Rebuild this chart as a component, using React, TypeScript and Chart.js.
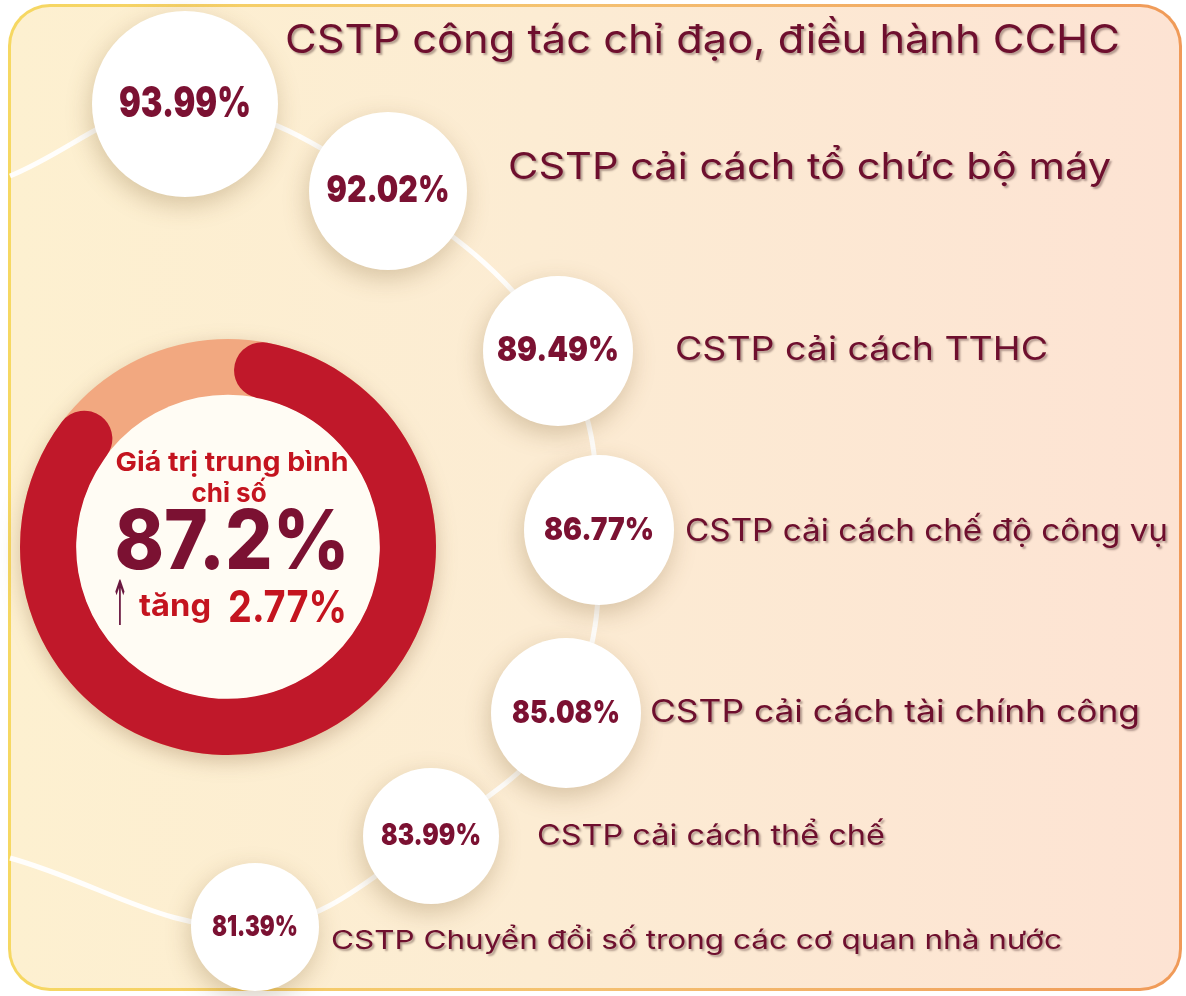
import React, { useEffect, useRef } from 'react';
import { Chart, registerables } from 'chart.js';

Chart.register(...registerables);

// ---------------- data ----------------
const CATEGORIES = [
  'CSTP công tác chỉ đạo, điều hành CCHC',
  'CSTP cải cách tổ chức bộ máy',
  'CSTP cải cách TTHC',
  'CSTP cải cách chế độ công vụ',
  'CSTP cải cách tài chính công',
  'CSTP cải cách thể chế',
  'CSTP Chuyển đổi số trong các cơ quan nhà nước',
];
const VALUES = [93.99, 92.02, 89.49, 86.77, 85.08, 83.99, 81.39];
const AVERAGE = 87.2;
const CHANGE = 2.77;
const AVG_TITLE = ['Giá trị trung bình', 'chỉ số'];
const CHANGE_WORD = 'tăng';
const DONUT_LABELS = ['Giá trị trung bình', 'Còn lại'];
const DONUT_SERIES = [AVERAGE, +(100 - AVERAGE).toFixed(2)];

// ---------------- layout (positions / sizes only) ----------------
const W = 1186;
const H = 996;
// node centre x, centre y, radius (px)
const NODE_LAYOUT = [
  [185, 104, 93],
  [388, 191, 79],
  [558, 351, 75],
  [599, 530, 75],
  [566, 713, 75],
  [431, 836, 68],
  [255, 927, 64],
];
const PATH_START = [10, 176];
const PATH_END = [10, 858];
// percent text: font size, target width
const PCT_LAYOUT = [
  [42, 132],
  [37, 123],
  [34, 122],
  [32, 110],
  [32, 108],
  [30, 100],
  [29, 86],
];
// category label: left x, centre y, font size, target width
const LABEL_LAYOUT = [
  [285, 41, 40, 835],
  [508, 168, 37, 603],
  [675, 350, 33, 373],
  [685, 532, 31, 483],
  [650, 713, 31, 490],
  [537, 837, 28, 348],
  [331, 941, 26, 731],
];

const FONT = '"Inter", "Noto Sans", "DejaVu Sans", sans-serif';
const MAROON = '#6e0f2e';
const PCT_COLOR = '#7b1132';
const RED = '#c0182a';
const PEACH = '#f2a880';
const TEXT_RED = '#c4141f';

function fitText(
  ctx: CanvasRenderingContext2D,
  text: string,
  x: number,
  y: number,
  size: number,
  weight: number,
  color: string,
  targetW: number | null,
  align: 'left' | 'center',
  shadow?: boolean,
  family: string = FONT
) {
  ctx.save();
  ctx.font = `${weight} ${size}px ${family}`;
  ctx.textBaseline = 'middle';
  ctx.textAlign = 'left';
  const w = ctx.measureText(text).width;
  const sx = targetW ? targetW / w : 1;
  const left = align === 'center' ? x - (w * sx) / 2 : x;
  if (shadow) {
    ctx.shadowColor = 'rgba(70,40,40,0.40)';
    ctx.shadowOffsetX = 2;
    ctx.shadowOffsetY = 2;
    ctx.shadowBlur = 2;
  }
  ctx.translate(left, y);
  ctx.scale(sx, 1);
  ctx.fillStyle = color;
  ctx.fillText(text, 0, 0);
  ctx.restore();
}

const donutPlugin = {
  id: 'donutDecor',
  beforeDatasetsDraw(chart: any) {
    const arc: any = chart.getDatasetMeta(0).data[0];
    if (!arc) return;
    const { x, y, innerRadius, outerRadius } = arc;
    const ctx = chart.ctx as CanvasRenderingContext2D;
    ctx.save();
    ctx.beginPath();
    ctx.arc(x, y, outerRadius, 0, Math.PI * 2);
    ctx.arc(x, y, innerRadius, 0, Math.PI * 2, true);
    ctx.fillStyle = PEACH;
    ctx.fill();
    ctx.beginPath();
    ctx.arc(x, y, innerRadius + 0.5, 0, Math.PI * 2);
    ctx.fillStyle = '#fffcf4';
    ctx.fill();
    ctx.restore();
  },
  afterDatasetsDraw(chart: any) {
    const arc: any = chart.getDatasetMeta(0).data[0];
    if (!arc) return;
    const { x, y } = arc;
    const ctx = chart.ctx as CanvasRenderingContext2D;
    fitText(ctx, AVG_TITLE[0], x + 4, y - 84, 26, 700, TEXT_RED, 233, 'center');
    fitText(ctx, AVG_TITLE[1], x + 1, y - 53, 26, 700, TEXT_RED, null, 'center');
    fitText(ctx, `${AVERAGE}%`, x + 4, y - 3, 82, 800, PCT_COLOR, 235, 'center');
    fitText(ctx, '↑', x - 117, y + 62, 62, 400, '#6b1840', 18, 'left', false, '"DejaVu Sans", sans-serif');
    fitText(ctx, CHANGE_WORD, x - 89, y + 60, 31, 700, TEXT_RED, 72, 'left');
    fitText(ctx, `${CHANGE}%`, x + 0, y + 62, 44, 700, TEXT_RED, 119, 'left');
  },
};

const shadowPlugin = {
  id: 'nodeShadow',
  beforeDatasetDraw(chart: any, args: any) {
    if (args.index !== 1) return;
    const ctx = chart.ctx as CanvasRenderingContext2D;
    ctx.save();
    ctx.shadowColor = 'rgba(120,85,40,0.28)';
    ctx.shadowBlur = 24;
    ctx.shadowOffsetX = -2;
    ctx.shadowOffsetY = 8;
  },
  afterDatasetDraw(chart: any, args: any) {
    if (args.index !== 1) return;
    chart.ctx.restore();
  },
};

const labelPlugin = {
  id: 'nodeLabels',
  afterDatasetsDraw(chart: any) {
    const ctx = chart.ctx as CanvasRenderingContext2D;
    const meta = chart.getDatasetMeta(1);
    meta.data.forEach((el: any, i: number) => {
      const [size, tw] = PCT_LAYOUT[i];
      fitText(ctx, VALUES[i].toFixed(2) + '%', el.x, el.y, size, 900, PCT_COLOR, tw, 'center');
    });
    CATEGORIES.forEach((c, i) => {
      const [lx, ly, size, tw] = LABEL_LAYOUT[i];
      fitText(ctx, c, lx, ly, size, 400, MAROON, tw, 'left', true);
    });
  },
};

export default function App() {
  const nodesRef = useRef<HTMLCanvasElement>(null);
  const donutRef = useRef<HTMLCanvasElement>(null);

  useEffect(() => {
    const linePts = [
      { x: PATH_START[0], y: PATH_START[1] },
      ...NODE_LAYOUT.map((n) => ({ x: n[0], y: n[1] })),
      { x: PATH_END[0], y: PATH_END[1] },
    ];
    const nodes = new Chart(nodesRef.current as HTMLCanvasElement, {
      type: 'bubble',
      data: {
        datasets: [
          {
            type: 'line',
            label: 'path',
            data: linePts,
            borderColor: 'rgba(255,255,255,0.92)',
            borderWidth: 5,
            pointRadius: 0,
            tension: 0.38,
            fill: false,
            order: 2,
            clip: false,
          } as any,
          {
            type: 'bubble',
            label: 'Chỉ số thành phần',
            data: VALUES.map((v, i) => ({ x: NODE_LAYOUT[i][0], y: NODE_LAYOUT[i][1], r: NODE_LAYOUT[i][2], v })),
            backgroundColor: '#ffffff',
            borderWidth: 0,
            order: 1,
            clip: false,
          } as any,
        ],
      },
      options: {
        responsive: false,
        animation: false,
        events: [],
        layout: { padding: 0, autoPadding: false },
        plugins: { legend: { display: false }, tooltip: { enabled: false } },
        scales: {
          x: { type: 'linear', display: false, min: 0, max: W, grace: 0 },
          y: { type: 'linear', display: false, min: 0, max: H, reverse: true, grace: 0 },
        },
      },
      plugins: [shadowPlugin, labelPlugin],
    } as any);

    const donut = new Chart(donutRef.current as HTMLCanvasElement, {
      type: 'doughnut',
      data: {
        labels: DONUT_LABELS,
        datasets: [
          {
            data: DONUT_SERIES,
            backgroundColor: [RED, 'rgba(0,0,0,0)'],
            borderWidth: 0,
            borderRadius: (c: any) => (c.dataIndex === 0 ? 28 : 0),
          },
        ],
      },
      options: {
        responsive: false,
        animation: false,
        events: [],
        rotation: 2,
        cutout: '73%',
        layout: { padding: 12 },
        plugins: { legend: { display: false }, tooltip: { enabled: false } },
      },
      plugins: [donutPlugin],
    } as any);

    return () => {
      nodes.destroy();
      donut.destroy();
    };
  }, []);

  return (
    <div style={{ position: 'fixed', left: 0, top: 0, width: W, height: H, background: '#ffffff', overflow: 'hidden' }}>
      <div
        style={{
          position: 'absolute',
          left: 8,
          top: 4,
          width: 1174,
          height: 987,
          boxSizing: 'border-box',
          borderRadius: 42,
          border: '3px solid transparent',
          background:
            'linear-gradient(90deg, #fdf0d0 0%, #fcecd3 45%, #fde3d3 100%) padding-box, linear-gradient(90deg, #f6d862 0%, #f4c071 50%, #f09a58 100%) border-box',
        }}
      />
      <canvas ref={nodesRef} width={W} height={H} style={{ position: 'absolute', left: 0, top: 0 }} />
      <canvas
        ref={donutRef}
        width={440}
        height={440}
        style={{ position: 'absolute', left: 8, top: 327, filter: 'drop-shadow(0px 6px 10px rgba(110,70,30,0.28))' }}
      />
    </div>
  );
}
